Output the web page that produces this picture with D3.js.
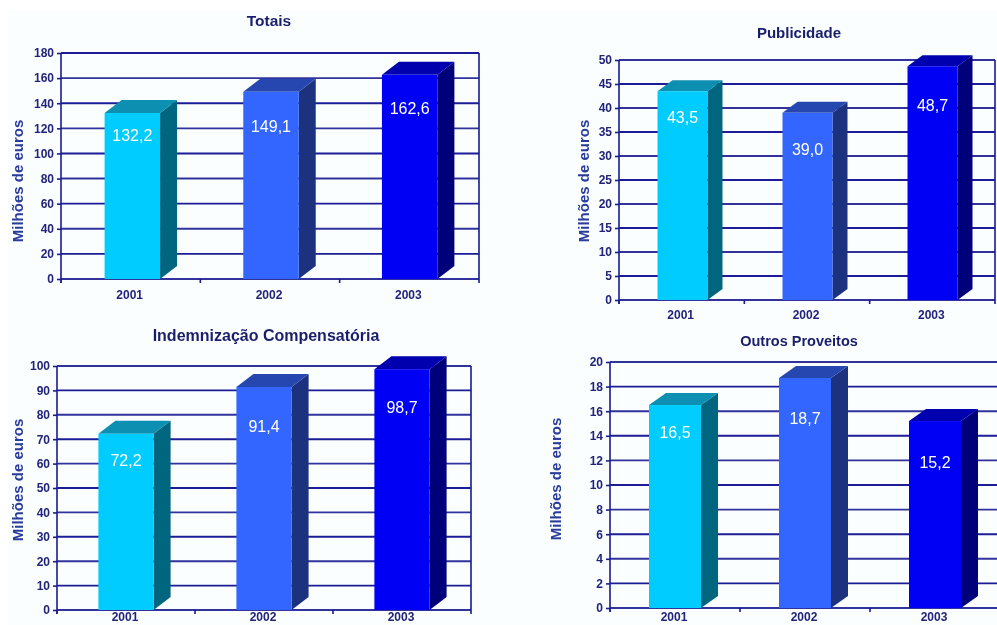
<!DOCTYPE html>
<meta charset="utf-8">
<head>
	<title>Proveitos</title>
	<style>
		body { margin: 0; background: #FFFFFF; overflow: hidden; }
		svg { display: block; font-family: "Liberation Sans", Arial, sans-serif; }
		.title { font-weight: bold; fill: #1A1F6B; text-anchor: middle; }
		.yTitle { font-weight: bold; font-size: 15px; fill: #2A3A9A; text-anchor: middle; }
		.tickText { font-size: 12px; font-weight: bold; fill: #23237A; }
		.barValue { font-size: 16px; fill: #FFFFFF; text-anchor: middle; }
	</style>
	<script src="https://d3js.org/d3.v7.min.js"></script>
</head>
<body>
	<div id="graph"></div>
	<script>
		const WIDTH = 997, HEIGHT = 625;

		const years = ['2001', '2002', '2003'];
		const totais = [132.2, 149.1, 162.6];
		const publicidade = [43.5, 39.0, 48.7];
		const indemnizacao = [72.2, 91.4, 98.7];
		const outros = [16.5, 18.7, 15.2];

		const totaisTicks = [0, 20, 40, 60, 80, 100, 120, 140, 160, 180];
		const publicidadeTicks = [0, 5, 10, 15, 20, 25, 30, 35, 40, 45, 50];
		const indemnizacaoTicks = [0, 10, 20, 30, 40, 50, 60, 70, 80, 90, 100];
		const outrosTicks = [0, 2, 4, 6, 8, 10, 12, 14, 16, 18, 20];

		const frontColors = ['#00CCFF', '#3366FF', '#0000F5'];
		const sideColors = ['#006680', '#1F337F', '#00007A'];
		const topColors = ['#0A8FB2', '#2647B0', '#0000AE'];

		const SVG = d3.select('#graph').append('svg').attr('width', WIDTH).attr('height', HEIGHT);

		//soft edges, the picture is a scaled up jpeg
		SVG.append('defs').append('filter').attr('id', 'soft')
			.attr('x', '-5%').attr('y', '-5%').attr('width', '110%').attr('height', '110%')
			.append('feGaussianBlur').attr('stdDeviation', 0.5);

		SVG.append('rect').attr('x', 8).attr('y', 10).attr('width', WIDTH).attr('height', HEIGHT).attr('fill', '#FAFEFF');

		const root = SVG.append('g').attr('filter', 'url(#soft)');

		function drawPanel(p) {
			const g = root.append('g');
			const slot = d3.scaleBand().domain(years).range([p.left, p.right]);
			const x = d3.scaleBand().domain(years).range([p.left + p.inset, p.right]).paddingInner(p.gap).paddingOuter(p.gap / 2);
			const y = d3.scaleLinear().domain([0, d3.max(p.ticks)]).range([p.bottom, p.top]);

			//grid + y axis
			const yAxis = g.append('g').attr('transform', `translate(${p.left},0)`)
				.call(d3.axisLeft(y).tickValues(p.ticks).tickSize(4).tickPadding(3));
			yAxis.select('.domain').remove();
			yAxis.selectAll('.tick line').attr('stroke', '#1C1C90').attr('stroke-width', 1.6);
			yAxis.selectAll('.tick text').attr('class', 'tickText');

			g.append('g').selectAll('line').data(p.ticks).join('line')
				.attr('x1', p.left).attr('x2', p.right)
				.attr('y1', d => y(d)).attr('y2', d => y(d))
				.attr('stroke', (d, i) => i % 2 ? '#1C1C96' : '#30309C').attr('stroke-width', 1.9);

			//frame sides
			g.append('line').attr('x1', p.left).attr('x2', p.left).attr('y1', p.top).attr('y2', p.bottom + 4).attr('stroke', '#1C1C90').attr('stroke-width', 1.6);
			g.append('line').attr('x1', p.right).attr('x2', p.right).attr('y1', p.top).attr('y2', p.bottom + 4).attr('stroke', '#1C1C90').attr('stroke-width', 1.6);

			//x axis, ticks sit on the slot edges
			g.append('g').selectAll('line').data(years).join('line')
				.attr('x1', d => slot(d)).attr('x2', d => slot(d))
				.attr('y1', p.bottom).attr('y2', p.bottom + 4)
				.attr('stroke', '#1C1C90').attr('stroke-width', 1.6);
			g.append('g').selectAll('text').data(years).join('text')
				.attr('class', 'tickText').attr('text-anchor', 'middle')
				.attr('x', d => slot(d) + slot.bandwidth() / 2 - 1)
				.attr('y', p.yearY)
				.text(d => d);

			//bars
			const bars = g.append('g').selectAll('g').data(p.values).join('g');
			const bx = (d, i) => x(years[i]);
			const bw = x.bandwidth();
			bars.append('path').attr('fill', (d, i) => sideColors[i])
				.attr('d', (d, i) => {
					const l = bx(d, i) + bw;
					return `M${l},${p.bottom}L${l + p.dx},${p.bottom - p.dy}L${l + p.dx},${y(d) - p.dy}L${l},${y(d)}Z`;
				});
			bars.append('path').attr('fill', (d, i) => topColors[i])
				.attr('d', (d, i) => {
					const l = bx(d, i);
					return `M${l},${y(d)}L${l + p.dx},${y(d) - p.dy}L${l + bw + p.dx},${y(d) - p.dy}L${l + bw},${y(d)}Z`;
				});
			bars.append('rect').attr('fill', (d, i) => frontColors[i])
				.attr('x', bx).attr('y', d => y(d))
				.attr('width', bw).attr('height', d => p.bottom - y(d));
			bars.append('text').attr('class', 'barValue')
				.attr('x', (d, i) => bx(d, i) + bw / 2)
				.attr('y', (d, i) => y(d) + p.drops[i] + 6)
				.text(d => d.toFixed(1).replace('.', ','));

			g.append('text').attr('class', 'title')
				.attr('x', p.titleX).attr('y', p.titleY)
				.style('font-size', p.titleSize + 'px')
				.text(p.title);

			g.append('text').attr('class', 'yTitle')
				.attr('transform', `translate(${p.yTitleX},${p.yTitleY}) rotate(-90)`)
				.text('Milhões de euros');
		}

		drawPanel({ title: 'Totais', values: totais, ticks: totaisTicks, left: 61, right: 479, top: 53, bottom: 279, gap: 0.6, inset: 2, dx: 17, dy: 13, drops: [22, 34, 33], yearY: 299, titleX: 269, titleY: 26, titleSize: 15.5, yTitleX: 23, yTitleY: 181 });
		drawPanel({ title: 'Publicidade', values: publicidade, ticks: publicidadeTicks, left: 619, right: 995, top: 60, bottom: 300, gap: 0.6, inset: 1, dx: 15, dy: 11, drops: [26, 36, 39], yearY: 319, titleX: 799, titleY: 38, titleSize: 15, yTitleX: 589, yTitleY: 181 });
		drawPanel({ title: 'Indemnização Compensatória', values: indemnizacao, ticks: indemnizacaoTicks, left: 57, right: 471, top: 366, bottom: 610, gap: 0.6, inset: 0, dx: 17, dy: 13, drops: [26, 39, 38], yearY: 621, titleX: 266, titleY: 341, titleSize: 16, yTitleX: 23, yTitleY: 480 });
		drawPanel({ title: 'Outros Proveitos', values: outros, ticks: outrosTicks, left: 610, right: 1000, top: 362, bottom: 608, gap: 0.6, inset: 0, dx: 17, dy: 12, drops: [27, 40, 41], yearY: 621, titleX: 799, titleY: 346, titleSize: 14.5, yTitleX: 561, yTitleY: 479 });
	</script>
</body>
